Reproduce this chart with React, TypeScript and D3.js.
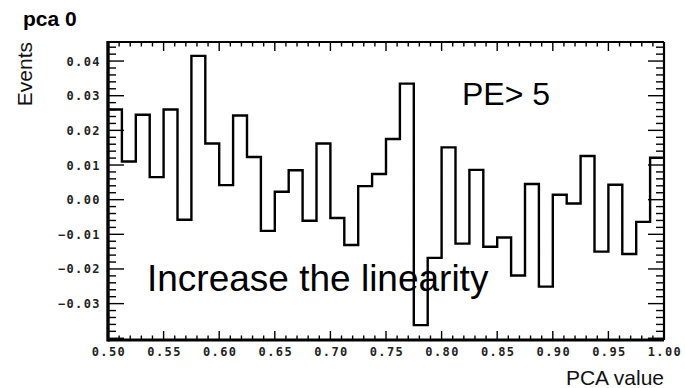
import React, { useEffect, useRef } from 'react';
import * as d3 from 'd3';

// histogram: 40 bins of width 0.0125 starting at 0.50
const binLow = 0.5;
const binWidth = 0.0125;
const binValues = [
  0.026, 0.011, 0.0245, 0.0065, 0.026, -0.0058, 0.0415, 0.0162, 0.0042, 0.0243,
  0.0123, -0.009, 0.0023, 0.0085, -0.0061, 0.0162, -0.0053, -0.0131, 0.0039, 0.0074,
  0.0175, 0.0335, -0.0362, -0.0168, 0.0151, -0.0127, 0.0086, -0.0136, -0.0109, -0.0219,
  0.0045, -0.0251, 0.0014, -0.0011, 0.0126, -0.015, 0.0043, -0.0157, -0.0064, 0.0121,
];
const xTicks = [0.5, 0.55, 0.6, 0.65, 0.7, 0.75, 0.8, 0.85, 0.9, 0.95, 1.0];
const yTicks = [-0.03, -0.02, -0.01, 0, 0.01, 0.02, 0.03, 0.04];
const xDomain: [number, number] = [0.5, 1.0];
const yDomain: [number, number] = [-0.0405, 0.0455];

export default function App() {
  const ref = useRef<SVGSVGElement>(null);
  const width = 685;
  const height = 388;

  useEffect(() => {
    if (!ref.current) return;
    const svg = d3.select(ref.current);
    svg.selectAll('*').remove();

    const frame = { left: 108, right: 664, top: 42, bottom: 340 };
    const x = d3.scaleLinear().domain(xDomain).range([frame.left, frame.right]);
    const y = d3.scaleLinear().domain(yDomain).range([frame.bottom, frame.top]);

    const monoFont = '"DejaVu Sans Mono", monospace';
    const sansFont = '"Liberation Sans", Arial, sans-serif';

    svg.append('rect').attr('width', width).attr('height', height).attr('fill', '#fff');

    // histogram outline
    const pts: [number, number][] = [];
    binValues.forEach((v, i) => {
      const lo = binLow + i * binWidth;
      pts.push([lo, v], [lo + binWidth, v]);
    });
    const line = d3.line<[number, number]>().x(d => x(d[0])).y(d => y(d[1]));
    svg.append('path').datum(pts).attr('d', line as any)
      .attr('fill', 'none').attr('stroke', '#000').attr('stroke-width', 2.4).attr('stroke-linejoin', 'miter');

    // ticks
    const ticks = svg.append('g').attr('stroke', '#000').attr('stroke-width', 1.4);
    const xMinor = d3.range(0, 51).map(i => 0.5 + i * 0.01);
    xMinor.forEach((t, i) => {
      const len = i % 5 === 0 ? 9 : 4.5;
      ticks.append('line').attr('x1', x(t)).attr('x2', x(t)).attr('y1', frame.bottom).attr('y2', frame.bottom - len);
      ticks.append('line').attr('x1', x(t)).attr('x2', x(t)).attr('y1', frame.top).attr('y2', frame.top + len);
    });
    const yMinor = d3.range(-20, 23).map(i => i * 0.002);
    yMinor.forEach((t, i) => {
      const len = (i - 20) % 5 === 0 ? 16 : 8;
      ticks.append('line').attr('y1', y(t)).attr('y2', y(t)).attr('x1', frame.left).attr('x2', frame.left + len);
      ticks.append('line').attr('y1', y(t)).attr('y2', y(t)).attr('x1', frame.right).attr('x2', frame.right - len);
    });

    // frame
    svg.append('line').attr('x1', frame.left).attr('x2', frame.right).attr('y1', frame.top).attr('y2', frame.top).attr('stroke', '#000').attr('stroke-width', 2.2);
    svg.append('line').attr('x1', frame.right).attr('x2', frame.right).attr('y1', frame.top).attr('y2', frame.bottom).attr('stroke', '#000').attr('stroke-width', 2.2);
    svg.append('line').attr('x1', frame.left).attr('x2', frame.right).attr('y1', frame.bottom).attr('y2', frame.bottom).attr('stroke', '#000').attr('stroke-width', 3);
    svg.append('line').attr('x1', frame.left).attr('x2', frame.left).attr('y1', frame.top - 1).attr('y2', frame.bottom + 1.5).attr('stroke', '#000').attr('stroke-width', 3.4);

    // tick labels
    const fmt = d3.format('.2f');
    svg.append('g').selectAll('text').data(xTicks).enter().append('text')
      .attr('x', d => x(d) + 1).attr('y', 356).attr('text-anchor', 'middle')
      .attr('font-family', monoFont).attr('font-weight', 'bold').attr('font-size', 12)
      .attr('letter-spacing', 1.4).attr('fill', '#222').text(d => fmt(d));
    svg.append('g').selectAll('text').data(yTicks).enter().append('text')
      .attr('x', 101).attr('y', d => y(d) + 4.5).attr('text-anchor', 'end')
      .attr('font-family', monoFont).attr('font-weight', 'bold').attr('font-size', 12)
      .attr('letter-spacing', 1.4).attr('fill', '#222').text(d => fmt(d));

    // titles
    svg.append('text').attr('x', 23).attr('y', 26).attr('font-family', sansFont).attr('font-weight', 'bold')
      .attr('font-size', 21).attr('fill', '#000').text('pca 0');
    svg.append('text').attr('transform', `translate(32,${frame.top}) rotate(-90)`).attr('text-anchor', 'end')
      .attr('font-family', sansFont).attr('font-size', 21).attr('fill', '#111').text('Events');
    svg.append('text').attr('x', frame.right).attr('y', 385).attr('text-anchor', 'end')
      .attr('font-family', sansFont).attr('font-size', 21).attr('fill', '#111').text('PCA value');

    // annotations
    svg.append('text').attr('x', 462).attr('y', 105).attr('font-family', sansFont)
      .attr('font-size', 32).attr('fill', '#000').text('PE> 5');
    svg.append('text').attr('x', 147).attr('y', 291).attr('font-family', sansFont)
      .attr('font-size', 37).attr('fill', '#000').text('Increase the linearity');
  }, []);

  return (
    <svg ref={ref} width={width} height={height} style={{ position: 'absolute', left: 0, top: 0 }} />
  );
}
